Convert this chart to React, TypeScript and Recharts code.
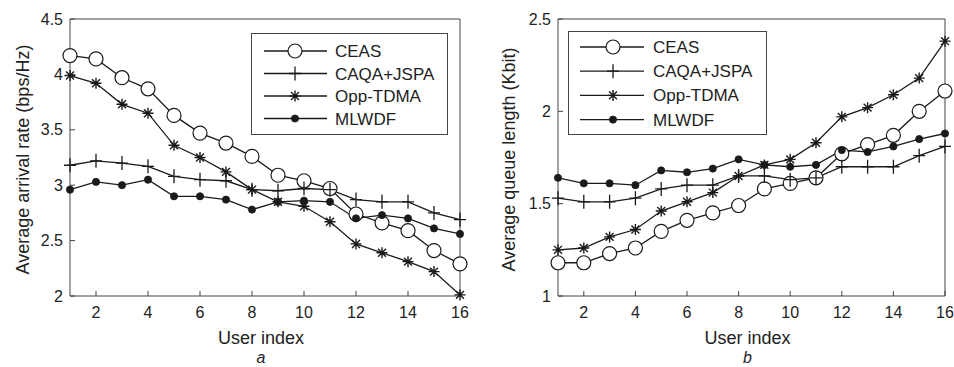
import React from 'react';
import { LineChart, Line, XAxis, YAxis, Legend } from 'recharts';

const users = [1, 2, 3, 4, 5, 6, 7, 8, 9, 10, 11, 12, 13, 14, 15, 16];
const xTicks = [2, 4, 6, 8, 10, 12, 14, 16];
const seriesNames = ['CEAS', 'CAQA+JSPA', 'Opp-TDMA', 'MLWDF'];
const seriesKeys = ['ceas', 'caqa', 'opp', 'mlwdf'];
const seriesMarkers = ['circle', 'plus', 'star', 'dot'];

const arrivalCEAS = [4.17, 4.14, 3.97, 3.87, 3.63, 3.47, 3.38, 3.26, 3.09, 3.04, 2.97, 2.74, 2.66, 2.59, 2.41, 2.29];
const arrivalCAQA = [3.18, 3.22, 3.2, 3.17, 3.08, 3.05, 3.04, 2.96, 2.95, 2.97, 2.96, 2.87, 2.85, 2.85, 2.75, 2.69];
const arrivalOpp = [3.99, 3.92, 3.73, 3.65, 3.36, 3.25, 3.12, 2.96, 2.85, 2.81, 2.67, 2.47, 2.39, 2.31, 2.22, 2.01];
const arrivalMLWDF = [2.96, 3.03, 3.0, 3.05, 2.9, 2.9, 2.87, 2.78, 2.85, 2.86, 2.85, 2.7, 2.73, 2.7, 2.61, 2.56];
const arrivalTicks = [2, 2.5, 3, 3.5, 4, 4.5];

const queueCEAS = [1.18, 1.18, 1.23, 1.26, 1.35, 1.41, 1.45, 1.49, 1.58, 1.61, 1.64, 1.77, 1.82, 1.87, 2.0, 2.11];
const queueCAQA = [1.53, 1.51, 1.51, 1.53, 1.58, 1.6, 1.6, 1.65, 1.65, 1.63, 1.64, 1.7, 1.7, 1.7, 1.76, 1.81];
const queueOpp = [1.25, 1.26, 1.32, 1.36, 1.46, 1.51, 1.56, 1.65, 1.71, 1.74, 1.83, 1.97, 2.02, 2.09, 2.18, 2.38];
const queueMLWDF = [1.64, 1.61, 1.61, 1.6, 1.68, 1.67, 1.69, 1.74, 1.71, 1.7, 1.71, 1.79, 1.78, 1.81, 1.85, 1.88];
const queueTicks = [1, 1.5, 2, 2.5];

const buildRows = (a: number[], b: number[], c: number[], d: number[]) =>
  users.map((u, i) => ({ x: u, ceas: a[i], caqa: b[i], opp: c[i], mlwdf: d[i] }));

const arrivalData = buildRows(arrivalCEAS, arrivalCAQA, arrivalOpp, arrivalMLWDF);
const queueData = buildRows(queueCEAS, queueCAQA, queueOpp, queueMLWDF);

const FONT = '"Liberation Sans", Arial, Helvetica, sans-serif';
const INK = '#1a1a1a';
const AXIS = '#444';

function Marker({ type, cx, cy }: { type: string; cx: number; cy: number }) {
  if (cx == null || cy == null) return null;
  if (type === 'circle') {
    return <circle cx={cx} cy={cy} r={7} fill="#fff" stroke={INK} strokeWidth={1.2} />;
  }
  if (type === 'plus') {
    return (
      <path d={`M${cx - 6},${cy}H${cx + 6}M${cx},${cy - 7}V${cy + 7}`} stroke={INK} strokeWidth={1.3} fill="none" />
    );
  }
  if (type === 'star') {
    const r = 5.5;
    const d = r * 0.72;
    return (
      <path
        d={`M${cx - r},${cy}H${cx + r}M${cx},${cy - r}V${cy + r}M${cx - d},${cy - d}L${cx + d},${cy + d}M${cx - d},${cy + d}L${cx + d},${cy - d}`}
        stroke={INK}
        strokeWidth={1.4}
        fill="none"
      />
    );
  }
  return <circle cx={cx} cy={cy} r={3.6} fill={INK} stroke={INK} strokeWidth={0.8} />;
}

const dotRenderer = (type: string) => (props: any) => (
  <Marker key={`${type}-${props.index}`} type={type} cx={props.cx} cy={props.cy} />
);

type LegendBox = { left: number; top: number; w: number; h: number; row0: number; dy: number; lx1: number; lx2: number; mx: number; tx: number };

const legendContent = (box: LegendBox) => () => (
  <svg width={box.w} height={box.h} style={{ display: 'block', overflow: 'visible' }}>
    <rect x={0.5} y={0.5} width={box.w - 1} height={box.h - 1} fill="#fff" stroke={AXIS} strokeWidth={1} />
    {seriesNames.map((n, i) => {
      const y = box.row0 + i * box.dy;
      return (
        <g key={n}>
          <line x1={box.lx1} x2={box.lx2} y1={y} y2={y} stroke={INK} strokeWidth={1.3} />
          <Marker type={seriesMarkers[i]} cx={box.mx} cy={y} />
          <text x={box.tx} y={y + 6} fontSize={17} fontFamily={FONT} fill="#222">
            {n}
          </text>
        </g>
      );
    })}
  </svg>
);

type PanelProps = {
  data: any[];
  left: number;
  width: number;
  yLeftW: number;
  yRightW: number;
  yDomain: [number, number];
  yTicks: number[];
  yLabel: string;
  yLabelX: number;
  letter: string;
  legend: LegendBox;
};

function Panel(p: PanelProps) {
  const tickStyle = { fontSize: 16, fill: '#222', fontFamily: FONT };
  return (
    <div style={{ position: 'absolute', left: p.left, top: 0, width: p.width, height: 367 }}>
      <LineChart width={p.width} height={367} data={p.data} margin={{ top: 18, right: 0, bottom: 0, left: 0 }}>
        <XAxis
          xAxisId="b"
          dataKey="x"
          type="number"
          domain={[1, 16]}
          ticks={xTicks}
          orientation="bottom"
          height={71}
          tickSize={-5}
          tickMargin={16}
          tick={tickStyle}
          axisLine={{ stroke: AXIS }}
          tickLine={{ stroke: AXIS }}
          label={{
            content: (lp: any) => {
              const vb = lp.viewBox || {};
              const cx = vb.x + vb.width / 2 - 4;
              return (
                <g>
                  <text x={cx} y={vb.y + 48} textAnchor="middle" fontSize={18} fontFamily={FONT} fill="#222">
                    User index
                  </text>
                  <text x={cx} y={vb.y + 67} textAnchor="middle" fontSize={16} fontStyle="italic" fontFamily={FONT} fill="#222">
                    {p.letter}
                  </text>
                </g>
              );
            },
          }}
        />
        <XAxis
          xAxisId="t"
          dataKey="x"
          type="number"
          domain={[1, 16]}
          ticks={xTicks}
          orientation="top"
          height={1}
          tickSize={-5}
          tick={false}
          axisLine={{ stroke: AXIS }}
          tickLine={{ stroke: AXIS }}
        />
        <YAxis
          yAxisId="l"
          type="number"
          domain={p.yDomain}
          ticks={p.yTicks}
          orientation="left"
          width={p.yLeftW}
          tickSize={-5}
          tickMargin={12}
          tick={tickStyle}
          axisLine={{ stroke: AXIS }}
          tickLine={{ stroke: AXIS }}
          label={{
            content: (lp: any) => {
              const vb = lp.viewBox || {};
              const cy = vb.y + vb.height / 2 + 2;
              return (
                <text
                  x={0}
                  y={0}
                  transform={`translate(${vb.x + p.yLabelX}, ${cy}) rotate(-90)`}
                  textAnchor="middle"
                  fontSize={18}
                  fontFamily={FONT}
                  fill="#222"
                >
                  {p.yLabel}
                </text>
              );
            },
          }}
        />
        <YAxis
          yAxisId="r"
          type="number"
          domain={p.yDomain}
          ticks={p.yTicks}
          orientation="right"
          width={p.yRightW}
          tickSize={-5}
          tick={false}
          axisLine={{ stroke: AXIS }}
          tickLine={{ stroke: AXIS }}
        />
        <Legend
          layout="vertical"
          align="center"
          verticalAlign="middle"
          wrapperStyle={{ left: p.legend.left, top: p.legend.top, width: p.legend.w, height: p.legend.h, margin: 0 }}
          content={legendContent(p.legend)}
        />
        {seriesKeys.map((k, i) => (
          <Line
            key={k}
            xAxisId="b"
            yAxisId="l"
            dataKey={k}
            name={seriesNames[i]}
            type="linear"
            stroke={INK}
            strokeWidth={1.3}
            dot={dotRenderer(seriesMarkers[i])}
            activeDot={false}
            isAnimationActive={false}
          />
        ))}
      </LineChart>
    </div>
  );
}

export default function App() {
  return (
    <div style={{ position: 'absolute', left: 0, top: 0, width: 954, height: 367, background: '#fff', overflow: 'hidden' }}>
      <Panel
        data={arrivalData}
        left={0}
        width={477}
        yLeftW={70}
        yRightW={17}
        yDomain={[2, 4.5]}
        yTicks={arrivalTicks}
        yLabel="Average arrival rate (bps/Hz)"
        yLabelX={29}
        letter="a"
        legend={{ left: 251, top: 33, w: 197, h: 102, row0: 18, dy: 22.5, lx1: 13, lx2: 76, mx: 44, tx: 84 }}
      />
      <Panel
        data={queueData}
        left={477}
        width={477}
        yLeftW={81}
        yRightW={9}
        yDomain={[1, 2.5]}
        yTicks={queueTicks}
        yLabel="Average queue length (Kbit)"
        yLabelX={38}
        letter="b"
        legend={{ left: 91, top: 31, w: 199, h: 104, row0: 16, dy: 24.2, lx1: 12, lx2: 76, mx: 45, tx: 85 }}
      />
    </div>
  );
}
